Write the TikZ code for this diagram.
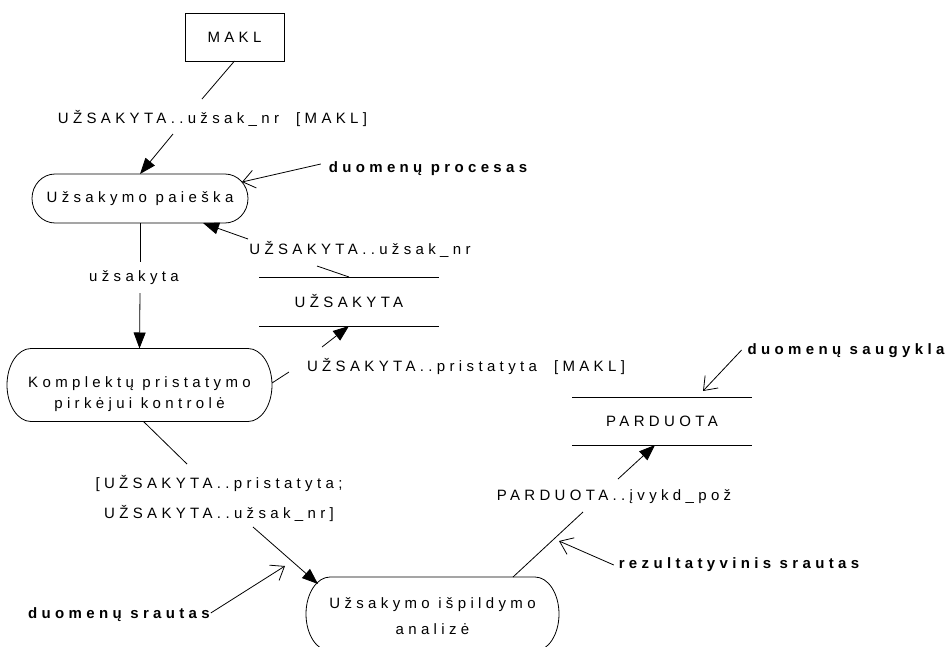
\documentclass[tikz,border=0pt]{standalone}
\usepackage{fontspec}
\setmainfont{Liberation Sans}[LetterSpace=29]
\usetikzlibrary{arrows.meta,calc}

% outline of a data process: flat top and bottom, elliptical ends
\newcommand\procoutline[3]{%
  \draw ([xshift=#2]#1.north west) -- ([xshift=-#2]#1.north east)
    arc[start angle=90,end angle=-90,x radius=#2,y radius=#3]
    -- ([xshift=#2]#1.south west)
    arc[start angle=270,end angle=90,x radius=#2,y radius=#3] -- cycle;}

\begin{document}
\begin{tikzpicture}[x=1pt,y=-1pt,line width=0.8pt,
  txt/.style={font=\fontsize{15}{18}\selectfont,inner sep=0pt,outer sep=0pt},
  note/.style={font=\fontsize{15}{18}\selectfont\bfseries,inner sep=0pt,outer sep=0pt},
  flow/.style={-{Triangle[length=16pt,width=12pt]}},
  hint/.style={-{Straight Barb[length=12pt,width=18pt]}}]
\useasboundingbox (0,0) rectangle (951,646);

% external entity
\node[txt,draw,minimum width=99pt,minimum height=48pt] (makl) at (234.5,37) {MAKL};

% processes
\node[txt,minimum width=216pt,minimum height=49pt] (p1) at (140,198.5) {Užsakymo paieška};
\procoutline{p1}{23pt}{24.5pt}
\node[txt,align=center,minimum width=265pt,minimum height=73pt,
      font=\fontsize{15}{21}\selectfont] (p2) at (139.5,385)
  {\rule{0pt}{29pt}Komplektų pristatymo\\pirkėjui kontrolė};
\procoutline{p2}{24pt}{36.5pt}
\node[txt,align=center,minimum width=253pt,minimum height=74pt,
      font=\fontsize{15}{26}\selectfont] (p3) at (432.5,614)
  {\rule{0pt}{15pt}Užsakymo išpildymo\\analizė};
\procoutline{p3}{24pt}{37pt}

% data stores
\node[txt,minimum width=180pt,minimum height=49pt] (s1) at (349,301.5) {UŽSAKYTA};
\draw (s1.north west) -- (s1.north east) (s1.south west) -- (s1.south east);
\node[txt,minimum width=180pt,minimum height=48pt] (s2) at (662,421) {PARDUOTA};
\draw (s2.north west) -- (s2.north east) (s2.south west) -- (s2.south east);

% flow labels
\node[txt] (f1) at (212.5,118) {UŽSAKYTA..užsak\_nr~~[MAKL]};
\node[txt] (f2) at (134,278) {užsakyta};
\node[txt] (f3) at (360,249) {UŽSAKYTA..užsak\_nr};
\node[txt] (f4) at (466,366) {UŽSAKYTA..pristatyta~~[MAKL]};
\node[txt,align=center,font=\fontsize{15}{30}\selectfont] (f5) at (219,498)
  {[UŽSAKYTA..pristatyta;\\UŽSAKYTA..užsak\_nr]};
\node[txt] (f6) at (614,497) {PARDUOTA..įvykd\_pož};

% legend notes
\node[note] (nproc) at (428,169) {duomenų procesas};
\node[note] (nstore) at (846,351) {duomenų saugykla};
\node[note] (nflow) at (119,615) {duomenų srautas};
\node[note] (nres) at (739,565) {rezultatyvinis srautas};

% free ends of the flows beside their labels
\coordinate (a1) at (202,99);
\coordinate (a2) at (173,134);
\coordinate (b1) at (140,262);
\coordinate (b2) at (140,293);
\coordinate (c1) at (248,239);
\coordinate (c2) at (317,266);
\coordinate (d1) at (322,347);
\coordinate (d2) at (289,372);
\coordinate (e1) at (187,464);
\coordinate (e2) at (253,527);
\coordinate (g1) at (583,512);
\coordinate (g2) at (618,479);
\coordinate (h1) at (242,182);
\coordinate (h2) at (285,566);
\coordinate (h3) at (703,391);
\coordinate (h4) at (559,541);

% data flows
\draw (makl.south) -- (a1);
\draw[flow] (a2) -- (p1.north);
\draw (p1.south) -- (b1);
\draw[flow] (b2) -- (p2.north);
\draw[flow] (c1) -- ([xshift=-45pt]p1.south east);
\draw (c2) -- (s1.north);
\draw[flow] (d1) -- (s1.south);
\draw ([yshift=2pt]p2.east) -- (d2);
\draw ([xshift=4pt]p2.south) -- (e1);
\draw[flow] (e2) -- ([xshift=12pt,yshift=-7pt]p3.north west);
\draw ([xshift=-46pt]p3.north east) -- (g1);
\draw[flow] (g2) -- ([xshift=-7pt]s2.south);

% pointers from the notes
\draw[hint] ([xshift=-8pt,yshift=5pt]nproc.west) -- (h1);
\draw[hint] ([xshift=1pt,yshift=2pt]nflow.east) -- (h2);
\draw[hint] ([xshift=-6pt,yshift=1pt]nstore.west) -- (h3);
\draw[hint] ([xshift=-5pt]nres.west) -- (h4);
\end{tikzpicture}
\end{document}
